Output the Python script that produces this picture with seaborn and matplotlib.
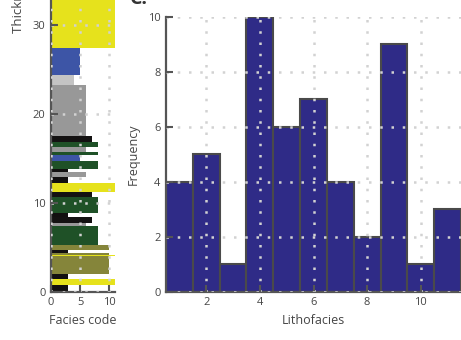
import matplotlib
matplotlib.use("Agg")
import matplotlib.pyplot as plt
import seaborn as sns
import pandas as pd

# Stratigraphic log: (base, top) thickness in m and facies code of each bed
bed_base = [0.0, 0.73, 1.38, 1.94, 4.0, 4.1, 4.35, 4.7, 5.25, 7.4, 7.7, 8.45,
            8.8, 10.7, 11.25, 12.2, 12.95, 13.5, 13.8, 14.7, 15.4, 15.75, 16.3,
            16.8, 17.55, 23.3, 24.4, 27.5]
bed_top = [0.73, 1.38, 1.94, 4.0, 4.1, 4.35, 4.7, 5.25, 7.4, 7.7, 8.45, 8.8,
           10.7, 11.25, 12.2, 12.95, 13.5, 13.8, 14.7, 15.4, 15.75, 16.3, 16.8,
           17.55, 23.3, 24.4, 27.5, 36.0]
bed_code = [3, 11, 3, 10, 11, 10, 3, 10, 8, 6, 7, 3,
            8, 7, 11, 3, 6, 3, 8, 5, 8, 6, 8,
            7, 6, 4, 5, 11]

# Lithofacies frequency
lithofacies = [1, 2, 3, 4, 5, 6, 7, 8, 9, 10, 11]
frequency = [4, 5, 1, 10, 6, 7, 4, 2, 9, 1, 3]

facies_colors = {
    3: "#121010",
    4: "#c4c4c4",
    5: "#3d55a6",
    6: "#989898",
    7: "#141212",
    8: "#1f5127",
    10: "#85853a",
    11: "#e6e21c",
}

sns.set_theme(style="white")
plt.rcParams["font.family"] = ["Open Sans", "DejaVu Sans"]
text_c = "#454545"
spine_c = "#555555"
grid_kw = dict(color="#d2d2d2", linestyle=(0, (1, 3.5)), linewidth=1.8)

W, H = 461, 340
fig = plt.figure(figsize=(W / 100, H / 100), dpi=100)

# ---- stratigraphic column ----
px_per_m = 8.87
ax1_h = 40 * px_per_m
ax1 = fig.add_axes([51 / W, (H - 291.5) / H, 64 / W, ax1_h / H])
log = pd.DataFrame({"base": bed_base, "top": bed_top, "code": bed_code})
log["thick"] = log["top"] - log["base"]
ax1.barh(log["base"], log["code"], height=log["thick"], left=0, align="edge",
         color=[facies_colors[c] for c in log["code"]], linewidth=0)
ax1.set_xlim(0, 11)
ax1.set_ylim(0, 40)
ax1.set_xticks([0, 5, 10])
ax1.set_yticks([0, 10, 20, 30])
ax1.grid(True, **grid_kw)
ax1.set_axisbelow(False)
ax1.set_xlabel("Facies code", color=text_c, fontsize=9, labelpad=4)
fig.text(18 / W, (H - 33) / H, "Thickness (m)", rotation=90, ha="center",
         va="bottom", color=text_c, fontsize=9.5)

# ---- lithofacies histogram ----
ax2 = fig.add_axes([166 / W, (H - 291.5) / H, (W - 166) / W, (291.5 - 17) / H])
sns.histplot(x=lithofacies, weights=frequency, discrete=True, ax=ax2,
             color="#2f2b87", alpha=1, edgecolor="#4a4a4a", linewidth=1.5)
ax2.set_xlim(0.5, 11.5)
ax2.set_ylim(0, 10)
ax2.set_xticks([2, 4, 6, 8, 10])
ax2.set_yticks([0, 2, 4, 6, 8, 10])
ax2.grid(True, **grid_kw)
ax2.set_axisbelow(False)
ax2.set_xlabel("Lithofacies", color=text_c, fontsize=9, labelpad=4)
ax2.set_ylabel("Frequency", color=text_c, fontsize=9, labelpad=6)

for ax in (ax1, ax2):
    for s in ("top", "right"):
        ax.spines[s].set_visible(False)
    for s in ("left", "bottom"):
        ax.spines[s].set_color(spine_c)
        ax.spines[s].set_linewidth(1.6)
    ax.tick_params(direction="in", length=5, width=1.5, color=spine_c,
                   labelcolor=text_c, labelsize=8, pad=4)
    ax.tick_params(axis="x", bottom=True)
    ax.tick_params(axis="y", left=True)

fig.text(130 / W, 1 - 4 / H, "C.", fontsize=14, fontweight="bold",
         color="#333333", ha="left", va="baseline")

fig.savefig("out.png", dpi=100)
